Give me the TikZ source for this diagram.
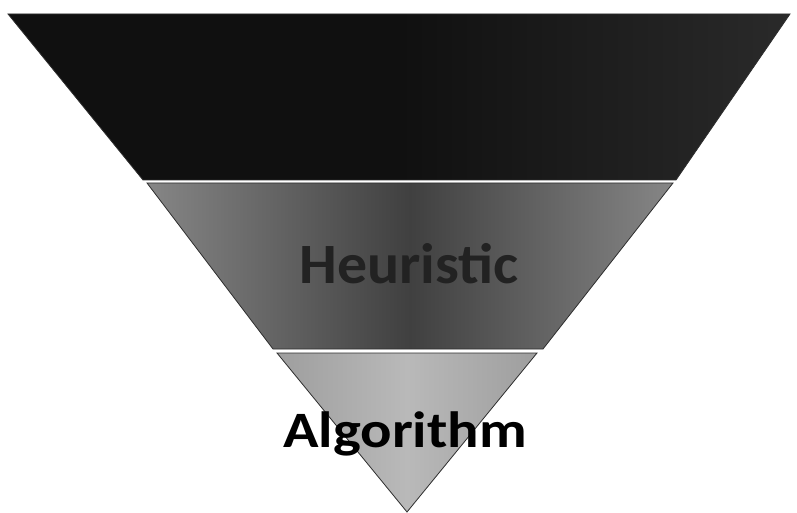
\documentclass[tikz,border=0pt]{standalone}
\usepackage{fontspec}
\setmainfont{Carlito}
\definecolor{topband}{HTML}{101010}
\definecolor{topedge}{HTML}{2A2A2A}
\definecolor{midedge}{HTML}{868686}
\definecolor{midcenter}{HTML}{404040}
\definecolor{botband}{HTML}{9E9E9E}
\definecolor{botlight}{HTML}{B9B9B9}
\definecolor{bandline}{HTML}{2E2E2E}
\definecolor{heurtext}{HTML}{222222}
\tikzset{
  band/.style={draw=bandline, line width=0.8pt, line join=miter},
  lbl/.style={anchor=base, inner sep=0pt, font=\bfseries},
}
\begin{document}
\begin{tikzpicture}[x=1pt,y=-1pt]
\useasboundingbox (0,0) rectangle (797,513);
% top band
\path[band, left color=topband, right color=topedge, middle color=topband]
  (8,14) coordinate (t1) -- (790,14) coordinate (t2) -- (676,180) coordinate (t3) -- (143,180) coordinate (t4) -- cycle;
% middle band
\path[band, left color=midedge, right color=midedge, middle color=midcenter]
  (147,183) coordinate (m1) -- (673,183) coordinate (m2) -- (543,349) coordinate (m3) -- (273,349) coordinate (m4) -- cycle;
% bottom band
\path[band, left color=botband, right color=botband, middle color=botlight]
  (277,353) coordinate (b1) -- (537,353) coordinate (b2) -- (407,512) coordinate (b3) -- cycle;
% labels
\node[lbl, text=heurtext] (heur) at (409,283)
  {\scalebox{1.05}[1]{\fontsize{57}{57}\selectfont Heuristic}};
\node[lbl, text=black] (algo) at (405,447)
  {\scalebox{1.15}[1]{\fontsize{51}{51}\selectfont Algorithm}};
\end{tikzpicture}
\end{document}
